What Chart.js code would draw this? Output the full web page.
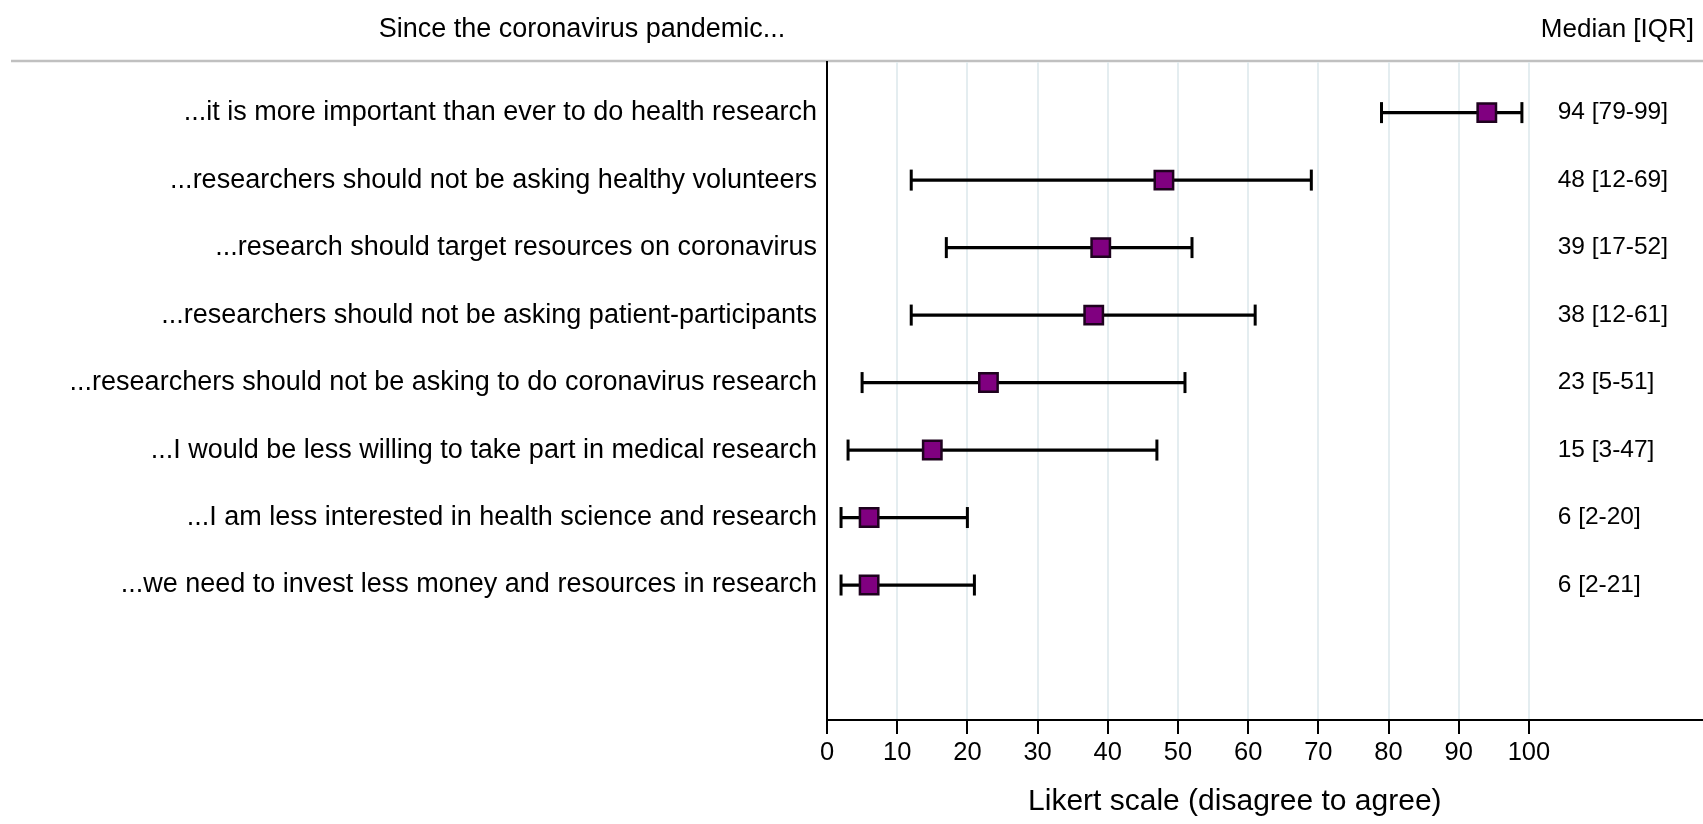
<!DOCTYPE html>
<html>
<head>
<meta charset="utf-8">
<script src="https://cdn.jsdelivr.net/npm/chart.js@4"></script>
<style>
  html, body { margin: 0; padding: 0; background: #fff; }
  #wrap { width: 1703px; height: 824px; }
</style>
</head>
<body>
<div id="wrap"><canvas id="likertChart"></canvas></div>
<script>
const statements = [
  '...it is more important than ever to do health research',
  '...researchers should not be asking healthy volunteers',
  '...research should target resources on coronavirus',
  '...researchers should not be asking patient-participants',
  '...researchers should not be asking to do coronavirus research',
  '...I would be less willing to take part in medical research',
  '...I am less interested in health science and research',
  '...we need to invest less money and resources in research'
];
const medians = [94, 48, 39, 38, 23, 15, 6, 6];
const q1 = [79, 12, 17, 12, 5, 3, 2, 2];
const q3 = [99, 69, 52, 61, 51, 47, 20, 21];
const xTicks = [0, 10, 20, 30, 40, 50, 60, 70, 80, 90, 100];

const FONT = "'Liberation Sans', Arial, Helvetica, sans-serif";

// medians first so they are drawn over the whiskers
const datasets = [{
  label: 'Median',
  data: medians.map((m, i) => ({ x: m, y: i + 1 })),
  pointStyle: 'rect',
  pointRadius: 13,
  backgroundColor: '#800080',
  borderColor: '#1e021e',
  borderWidth: 2.5,
  showLine: false
}];
statements.forEach((s, i) => {
  datasets.push({
    label: 'IQR ' + (i + 1),
    data: [{ x: q1[i], y: i + 1 }, { x: q3[i], y: i + 1 }],
    showLine: true,
    borderColor: '#000',
    borderWidth: 3.2,
    pointStyle: 'line',
    rotation: 90,
    pointRadius: 10.5,
    pointBorderColor: '#000',
    pointBorderWidth: 3
  });
});

const decor = {
  id: 'decor',
  beforeDraw(chart) {
    const ctx = chart.ctx;
    ctx.save();
    ctx.strokeStyle = '#c0c0c0';
    ctx.lineWidth = 2.5;
    ctx.beginPath();
    ctx.moveTo(11, 61);
    ctx.lineTo(chart.width, 61);
    ctx.stroke();
    ctx.restore();
  },
  afterDraw(chart) {
    const ctx = chart.ctx;
    const x = chart.scales.x, y = chart.scales.y;
    ctx.save();
    ctx.fillStyle = '#000';
    ctx.textBaseline = 'alphabetic';
    ctx.font = '27px ' + FONT;
    ctx.textAlign = 'center';
    ctx.fillText('Since the coronavirus pandemic...', 582, 37);
    ctx.font = '26px ' + FONT;
    ctx.textAlign = 'right';
    ctx.fillText('Median [IQR]', 1694, 37);

    ctx.font = '24.5px ' + FONT;
    ctx.textAlign = 'left';
    ctx.textBaseline = 'middle';
    medians.forEach((m, i) => {
      ctx.fillText(m + ' [' + q1[i] + '-' + q3[i] + ']', x.getPixelForValue(104.1), y.getPixelForValue(i + 1));
    });

    ctx.font = '30px ' + FONT;
    ctx.textAlign = 'center';
    ctx.textBaseline = 'alphabetic';
    ctx.fillText('Likert scale (disagree to agree)', x.getPixelForValue(58.1), 810);
    ctx.restore();
  }
};

new Chart(document.getElementById('likertChart').getContext('2d'), {
  type: 'scatter',
  data: { datasets },
  options: {
    responsive: true,
    maintainAspectRatio: false,
    animation: false,
    events: [],
    layout: { autoPadding: false, padding: { top: 62, left: 0, right: 0, bottom: 0 } },
    plugins: { legend: { display: false }, tooltip: { enabled: false } },
    scales: {
      x: {
        type: 'linear',
        min: 0,
        max: 124.8,
        afterBuildTicks: (scale) => { scale.ticks = xTicks.map(v => ({ value: v })); },
        afterFit: (scale) => { scale.height = 104; scale.paddingLeft = 0; scale.paddingRight = 0; },
        grid: { color: '#e4edf0', lineWidth: 2, tickColor: '#000', tickLength: 14, tickWidth: 2 },
        border: { color: '#000', width: 2 },
        ticks: { color: '#000', font: { family: FONT, size: 25.5 }, padding: 4, maxRotation: 0 }
      },
      y: {
        type: 'linear',
        min: 0.25,
        max: 10,
        reverse: true,
        afterBuildTicks: (scale) => { scale.ticks = statements.map((s, i) => ({ value: i + 1 })); },
        afterFit: (scale) => { scale.width = 827; scale.paddingTop = 0; scale.paddingBottom = 0; },
        grid: { display: false, drawTicks: false },
        border: { color: '#000', width: 2 },
        ticks: {
          color: '#000',
          font: { family: FONT, size: 27 },
          padding: 10,
          autoSkip: false,
          callback: (v) => statements[v - 1] || ''
        }
      }
    }
  },
  plugins: [decor]
});
</script>
</body>
</html>
